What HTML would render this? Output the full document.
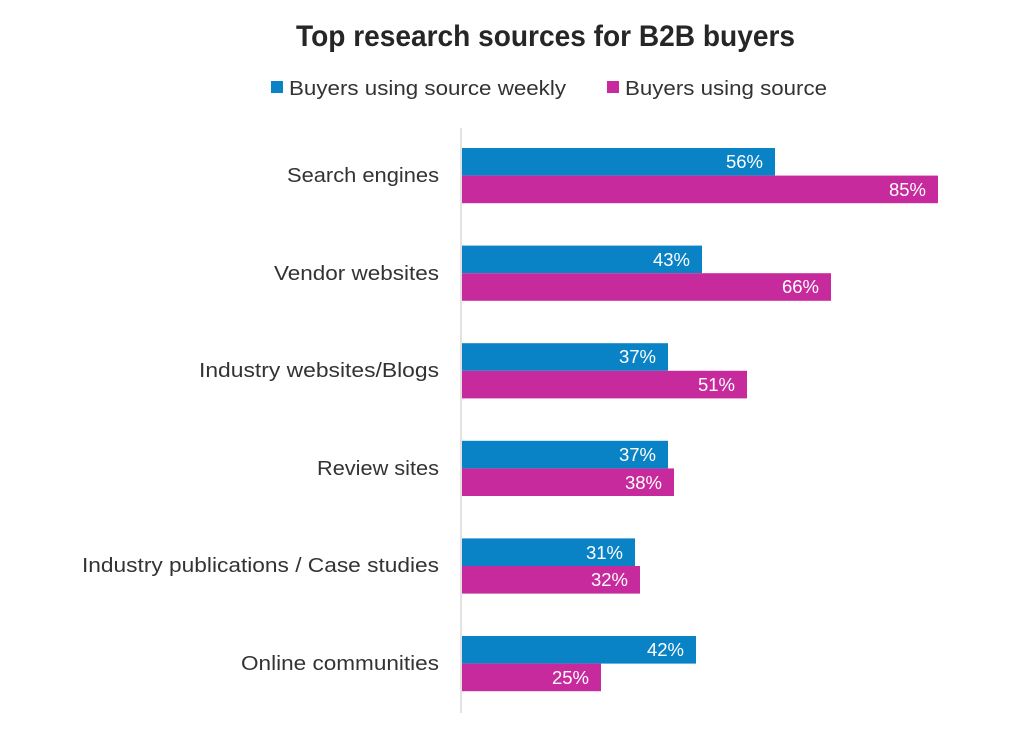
<!DOCTYPE html>
<html><head><meta charset="utf-8"><style>
html,body{margin:0;padding:0;background:#fff;}
svg{display:block;}
</style></head><body>
<svg width="1024" height="729" viewBox="0 0 1024 729" xmlns="http://www.w3.org/2000/svg">
<rect width="1024" height="729" fill="#fff"/>
<text x="545.5" y="46" text-anchor="middle" font-family="'Liberation Sans Narrow','Liberation Sans',sans-serif" font-weight="bold" font-size="30" fill="#262626" textLength="499" lengthAdjust="spacingAndGlyphs">Top research sources for B2B buyers</text>
<rect x="271" y="81" width="12" height="12" fill="#0a83c6"/>
<text x="289" y="95" font-family="'Liberation Sans',sans-serif" font-size="20" fill="#333" textLength="277" lengthAdjust="spacingAndGlyphs">Buyers using source weekly</text>
<rect x="607" y="81" width="12" height="12" fill="#c62a9d"/>
<text x="625" y="95" font-family="'Liberation Sans',sans-serif" font-size="20" fill="#333" textLength="202" lengthAdjust="spacingAndGlyphs">Buyers using source</text>
<line x1="461" y1="128" x2="461" y2="713" stroke="#d9d9d9" stroke-width="1.5"/>
<g font-family="'Liberation Sans',sans-serif" font-size="20" fill="#333" text-anchor="end" lengthAdjust="spacingAndGlyphs">
<text x="439" y="182" textLength="152" lengthAdjust="spacingAndGlyphs">Search engines</text>
<text x="439" y="280" textLength="165" lengthAdjust="spacingAndGlyphs">Vendor websites</text>
<text x="439" y="377" textLength="240" lengthAdjust="spacingAndGlyphs">Industry websites/Blogs</text>
<text x="439" y="475" textLength="122" lengthAdjust="spacingAndGlyphs">Review sites</text>
<text x="439" y="572" textLength="357" lengthAdjust="spacingAndGlyphs">Industry publications / Case studies</text>
<text x="439" y="670" textLength="198" lengthAdjust="spacingAndGlyphs">Online communities</text>
</g>
<g font-family="'Liberation Sans',sans-serif" font-size="18.5" fill="#fff" text-anchor="end">
<rect x="462" y="148" width="313" height="27.6" fill="#0a83c6"/>
<rect x="462" y="175.6" width="476" height="27.6" fill="#c62a9d"/>
<text x="763" y="168">56%</text><text x="926" y="196">85%</text>

<rect x="462" y="245.6" width="240" height="27.6" fill="#0a83c6"/>
<rect x="462" y="273.2" width="369" height="27.6" fill="#c62a9d"/>
<text x="690" y="266">43%</text><text x="819" y="293">66%</text>

<rect x="462" y="343.2" width="206" height="27.6" fill="#0a83c6"/>
<rect x="462" y="370.8" width="285" height="27.6" fill="#c62a9d"/>
<text x="656" y="363">37%</text><text x="735" y="391">51%</text>

<rect x="462" y="440.8" width="206" height="27.6" fill="#0a83c6"/>
<rect x="462" y="468.4" width="212" height="27.6" fill="#c62a9d"/>
<text x="656" y="461">37%</text><text x="662" y="489">38%</text>

<rect x="462" y="538.4" width="173" height="27.6" fill="#0a83c6"/>
<rect x="462" y="566" width="178" height="27.6" fill="#c62a9d"/>
<text x="623" y="559">31%</text><text x="628" y="586">32%</text>

<rect x="462" y="636" width="234" height="27.6" fill="#0a83c6"/>
<rect x="462" y="663.6" width="139" height="27.6" fill="#c62a9d"/>
<text x="684" y="656">42%</text><text x="589" y="684">25%</text>
</g>
</svg>
</body></html>
